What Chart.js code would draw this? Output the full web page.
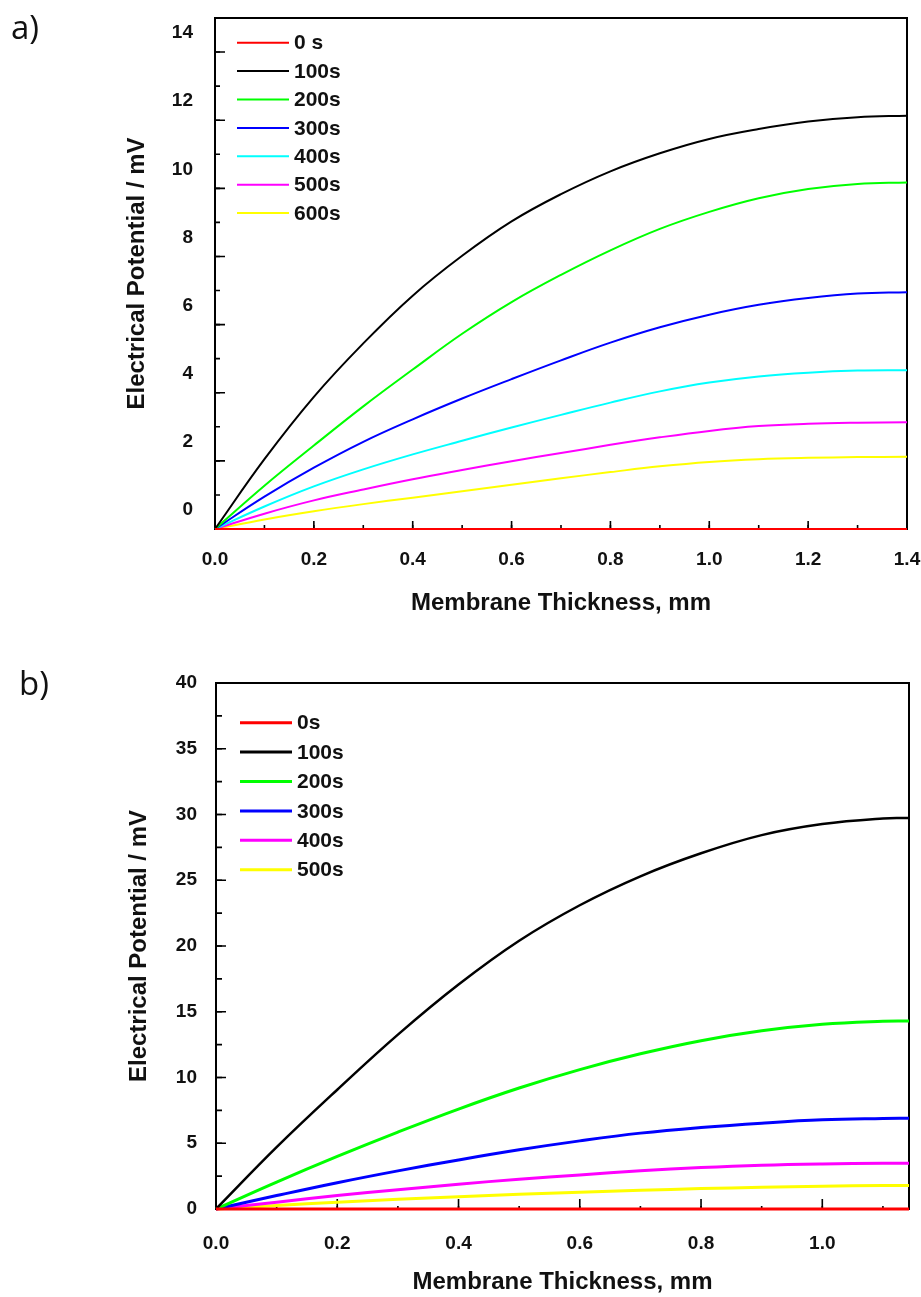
<!DOCTYPE html>
<html>
<head>
<meta charset="utf-8">
<script src="https://cdn.jsdelivr.net/npm/chart.js@4.4.1/dist/chart.umd.min.js"></script>
<style>
  body { margin: 0; background: #fff; width: 921px; height: 1297px; overflow: hidden; position: relative; }
  .panel { position: absolute; left: 0; }
  .panel canvas { display: block; }
  .tag { position: absolute; font-family: 'Open Sans', sans-serif; font-size: 33px; line-height: 1; color: #111; }
</style>
</head>
<body>
<div class="panel" style="top:0"><canvas id="chartA" width="921" height="640"></canvas></div>
<div class="panel" style="top:640px"><canvas id="chartB" width="921" height="657"></canvas></div>
<div class="tag" style="left:11px; top:10px">a)</div>
<div class="tag" style="left:19px; top:666px">b)</div>
<script>
// Panel a) – thickness up to 1.4 mm
const thicknessA = [0, 0.1, 0.2, 0.3, 0.4, 0.5, 0.6, 0.7, 0.8, 0.9, 1.0, 1.1, 1.2, 1.3, 1.4];
const labelsA = ['0 s', '100s', '200s', '300s', '400s', '500s', '600s'];
const a0s   = [0, 0, 0, 0, 0, 0, 0, 0, 0, 0, 0, 0, 0, 0, 0];
const a100s = [0, 2.05, 3.88, 5.45, 6.85, 8.02, 9.03, 9.83, 10.5, 11.03, 11.45, 11.74, 11.96, 12.09, 12.13];
const a200s = [0, 1.27, 2.45, 3.6, 4.68, 5.73, 6.66, 7.46, 8.18, 8.81, 9.31, 9.71, 9.98, 10.13, 10.17];
const a300s = [0, 0.95, 1.8, 2.56, 3.22, 3.83, 4.4, 4.95, 5.47, 5.92, 6.29, 6.58, 6.78, 6.91, 6.95];
const a400s = [0, 0.66, 1.25, 1.75, 2.19, 2.59, 2.98, 3.35, 3.71, 4.04, 4.3, 4.48, 4.59, 4.65, 4.66];
const a500s = [0, 0.45, 0.84, 1.16, 1.46, 1.73, 1.99, 2.23, 2.47, 2.69, 2.88, 3.02, 3.09, 3.12, 3.13];
const a600s = [0, 0.28, 0.52, 0.73, 0.92, 1.11, 1.3, 1.49, 1.67, 1.84, 1.97, 2.05, 2.09, 2.11, 2.12];

// Panel b) – thickness up to ~1.14 mm
const thicknessB = [0, 0.1, 0.2, 0.3, 0.4, 0.5, 0.6, 0.7, 0.8, 0.9, 1.0, 1.1, 1.143];
const labelsB = ['0s', '100s', '200s', '300s', '400s', '500s'];
const b0s   = [0, 0, 0, 0, 0, 0, 0, 0, 0, 0, 0, 0, 0];
const b100s = [0, 4.7, 9.07, 13.26, 17.07, 20.4, 23.1, 25.3, 27.05, 28.43, 29.27, 29.7, 29.73];
const b200s = [0, 2.05, 4.0, 5.85, 7.6, 9.2, 10.6, 11.8, 12.8, 13.55, 14.05, 14.28, 14.3];
const b300s = [0, 1.02, 2.0, 2.9, 3.73, 4.5, 5.18, 5.77, 6.2, 6.53, 6.78, 6.88, 6.9];
const b400s = [0, 0.52, 1.03, 1.47, 1.88, 2.27, 2.59, 2.9, 3.15, 3.33, 3.43, 3.48, 3.48];
const b500s = [0, 0.26, 0.52, 0.74, 0.94, 1.12, 1.27, 1.42, 1.55, 1.65, 1.73, 1.78, 1.78];

const colors = ['#ff0000', '#000000', '#00ff00', '#0000ff', '#00ffff', '#ff00ff', '#ffff00'];
const colorsB = ['#ff0000', '#000000', '#00ff00', '#0000ff', '#ff00ff', '#ffff00'];

const FONT = "'Liberation Sans', Arial, sans-serif";

function toPoints(xs, ys) {
    return xs.map((x, i) => ({ x: x, y: ys[i] }));
}

// no extra room for labels at the edges, the plot box is fixed by layout padding
function noEdgePadding(s) {
    s.paddingLeft = 0;
    s.paddingRight = 0;
    s.paddingTop = 0;
    s.paddingBottom = 0;
}

// frame + inward tick marks, drawn under the curves
const frameTicks = {
    id: 'frameTicks',
    beforeDatasetsDraw(chart, args, o) {
        const { ctx, chartArea: a, scales: { x, y } } = chart;
        ctx.save();
        ctx.strokeStyle = '#000';
        ctx.lineWidth = 2;
        ctx.strokeRect(a.left, a.top, a.right - a.left, a.bottom - a.top);
        ctx.lineWidth = 1.6;
        const marks = (scale, step, len, horiz) => {
            const n = Math.floor((scale.max - scale.min) / step + 1e-6);
            ctx.beginPath();
            for (let i = 0; i <= n; i++) {
                const p = scale.getPixelForValue(scale.min + i * step);
                if (horiz) { ctx.moveTo(p, a.bottom); ctx.lineTo(p, a.bottom - len); }
                else { ctx.moveTo(a.left, p); ctx.lineTo(a.left + len, p); }
            }
            ctx.stroke();
        };
        marks(x, o.xMinor, o.xMinorLen, true);
        marks(x, o.xMajor, o.xMajorLen, true);
        marks(y, o.yMinor, o.yMinorLen, false);
        marks(y, o.yMajor, o.yMajorLen, false);
        ctx.restore();
    }
};

// legend drawn inside the plot, top-left
const innerLegend = {
    id: 'innerLegend',
    afterDatasetsDraw(chart, args, o) {
        const { ctx, chartArea: a } = chart;
        ctx.save();
        ctx.font = o.font;
        ctx.textBaseline = 'middle';
        chart.data.datasets.forEach((ds, i) => {
            const yy = a.top + o.y + i * o.gap;
            const x0 = a.left + o.x;
            ctx.strokeStyle = ds.borderColor;
            ctx.lineWidth = o.lineWidth;
            ctx.beginPath();
            ctx.moveTo(x0, yy);
            ctx.lineTo(x0 + o.lineLen, yy);
            ctx.stroke();
            ctx.fillStyle = '#111';
            ctx.fillText(ds.label, x0 + o.lineLen + o.textGap, yy + 1);
        });
        ctx.restore();
    }
};

function makeChart(id, cfg) {
    const datasets = cfg.series.map((s, i) => ({
        label: cfg.labels[i],
        data: toPoints(cfg.xs, s),
        borderColor: cfg.colors[i],
        borderWidth: i === 1 ? cfg.blackWidth : cfg.lineWidth,
        pointRadius: 0,
        fill: false,
        tension: 0.4,
        clip: false
    }));
    return new Chart(document.getElementById(id), {
        type: 'line',
        data: { datasets: datasets },
        plugins: [frameTicks, innerLegend],
        options: {
            responsive: false,
            animation: false,
            layout: { padding: cfg.padding },
            plugins: {
                legend: { display: false },
                tooltip: { enabled: false },
                frameTicks: cfg.ticks,
                innerLegend: cfg.legend
            },
            scales: {
                x: {
                    type: 'linear',
                    min: 0,
                    max: cfg.xMax,
                    grid: { display: false, drawTicks: false },
                    border: { display: false },
                    afterFit: s => { s.height = cfg.xHeight; noEdgePadding(s); },
                    ticks: {
                        stepSize: 0.2,
                        includeBounds: false,
                        autoSkip: false,
                        maxRotation: 0,
                        padding: cfg.xTickPad,
                        color: '#111',
                        font: { family: FONT, size: 19, weight: 'bold' },
                        callback: v => v.toFixed(1)
                    },
                    title: {
                        display: true,
                        text: 'Membrane Thickness, mm',
                        color: '#111',
                        font: { family: FONT, size: 24, weight: 'bold' },
                        padding: { top: 0, bottom: cfg.xTitlePad }
                    }
                },
                y: {
                    min: 0,
                    max: cfg.yMax,
                    grid: { display: false, drawTicks: false },
                    border: { display: false },
                    afterFit: s => { s.width = cfg.yWidth; noEdgePadding(s); },
                    ticks: {
                        stepSize: cfg.yStep,
                        autoSkip: false,
                        padding: cfg.yTickPad,
                        labelOffset: cfg.yLabelOffset,
                        color: '#111',
                        font: { family: FONT, size: 19, weight: 'bold' },
                        callback: cfg.yCallback
                    },
                    title: {
                        display: true,
                        text: 'Electrical Potential / mV',
                        color: '#111',
                        font: { family: FONT, size: 24, weight: 'bold' },
                        padding: { top: cfg.yTitlePad, bottom: 0 }
                    }
                }
            }
        }
    });
}

makeChart('chartA', {
    xs: thicknessA,
    series: [a0s, a100s, a200s, a300s, a400s, a500s, a600s],
    labels: labelsA,
    colors: colors,
    lineWidth: 2,
    blackWidth: 2,
    padding: { top: 18, right: 14, left: 0, bottom: 0 },
    xMax: 1.4,
    xHeight: 111,
    xTickPad: 19,
    xTitlePad: 22,
    yMax: 15,
    yStep: 1,
    yWidth: 215,
    yTickPad: 22,
    yLabelOffset: -19,
    yTitlePad: 123,
    yCallback: v => (v % 2 === 0 && v < 15 ? v : ''),
    ticks: { xMajor: 0.2, xMinor: 0.1, xMajorLen: 8, xMinorLen: 4, yMajor: 2, yMinor: 1, yMajorLen: 10, yMinorLen: 5 },
    legend: { x: 22, y: 24.7, gap: 28.4, lineLen: 52, lineWidth: 2, textGap: 5, font: "bold 21px " + FONT }
});

makeChart('chartB', {
    xs: thicknessB,
    series: [b0s, b100s, b200s, b300s, b400s, b500s],
    labels: labelsB,
    colors: colorsB,
    lineWidth: 3,
    blackWidth: 2.5,
    padding: { top: 43, right: 12, left: 0, bottom: 0 },
    xMax: 1.143,
    xHeight: 88,
    xTickPad: 23,
    xTitlePad: 0,
    yMax: 40,
    yStep: 5,
    yWidth: 216,
    yTickPad: 19,
    yLabelOffset: 0,
    yTitlePad: 124.6,
    yCallback: v => v,
    ticks: { xMajor: 0.2, xMinor: 0.1, xMajorLen: 10, xMinorLen: 3, yMajor: 5, yMinor: 2.5, yMajorLen: 10, yMinorLen: 6 },
    legend: { x: 24, y: 39.7, gap: 29.4, lineLen: 52, lineWidth: 3, textGap: 5, font: "bold 21px " + FONT }
});
</script>
</body>
</html>
